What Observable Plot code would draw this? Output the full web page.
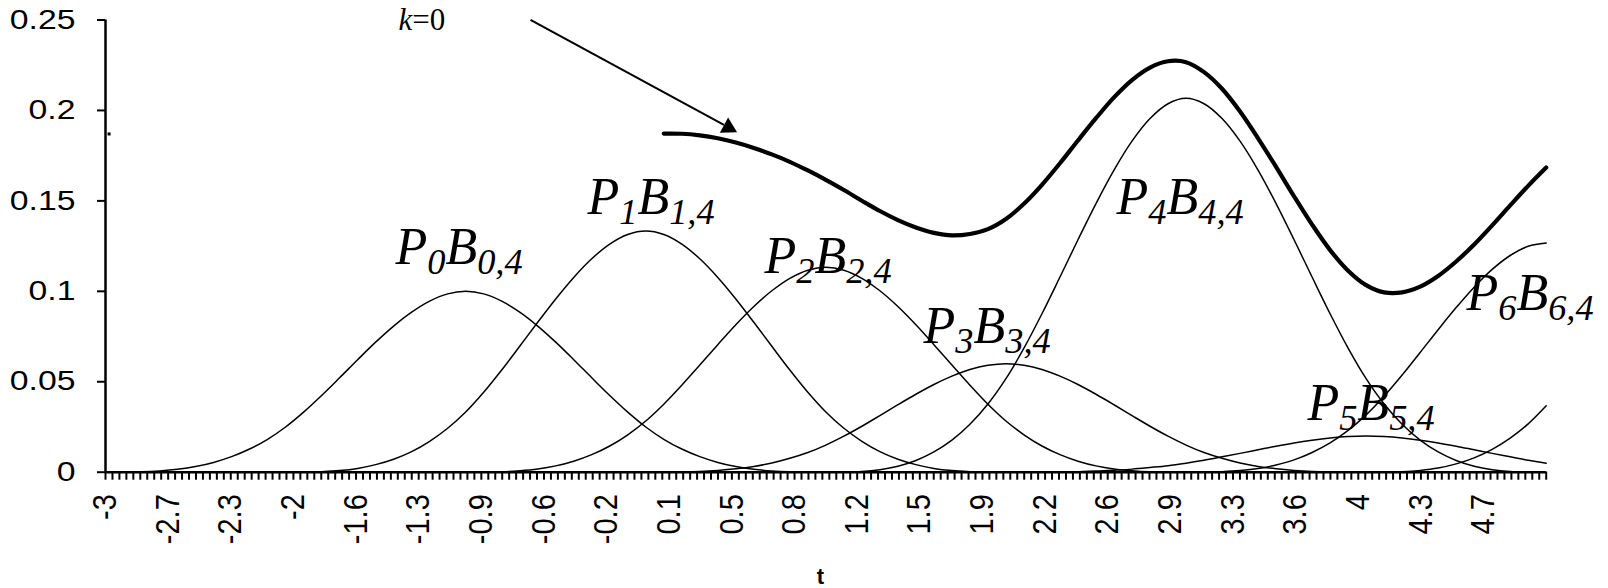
<!DOCTYPE html>
<html><head><meta charset="utf-8">
<script src="https://cdn.jsdelivr.net/npm/d3@7"></script>
<script src="https://cdn.jsdelivr.net/npm/@observablehq/plot@0.6"></script>
<style>body{margin:0;background:#fff}svg{display:block}</style>
</head><body><div id="chart"></div>
<script>
// ---- data ----
const tStep = 0.1;
const p0Start = -3;
const p0 = [0,0,.0002,.0007,.0016,.0031,.0054,.0086,.0128,.0182,.025,.0332,.0424,.0522,.0622,.0719,.0808,.0885,.0946,.0986,.1,.0986,.0946,.0885,.0808,.0719,.0622,.0522,.0424,.0332,.025,.0182,.0128,.0086,.0054,.0031,.0016,.0007,.0002,0,0];
const p1Start = -2;
const p1 = [0,0,.0003,.0009,.0021,.0042,.0072,.0114,.0171,.0243,.0333,.0442,.0565,.0696,.0829,.0958,.1077,.118,.1261,.1314,.1333,.1314,.1261,.118,.1077,.0958,.0829,.0696,.0565,.0442,.0333,.0243,.0171,.0114,.0072,.0042,.0021,.0009,.0003,0,0];
const p2Start = -1;
const p2 = [0,0,.0002,.0008,.0018,.0035,.0061,.0097,.0145,.0207,.0283,.0376,.0481,.0592,.0705,.0815,.0916,.1003,.1072,.1117,.1133,.1117,.1072,.1003,.0916,.0815,.0705,.0592,.0481,.0376,.0283,.0207,.0145,.0097,.0061,.0035,.0018,.0008,.0002,0,0];
const p3Start = 0;
const p3 = [0,0,.0001,.0004,.001,.0019,.0032,.0051,.0077,.0109,.015,.0199,.0254,.0313,.0373,.0431,.0485,.0531,.0568,.0591,.06,.0591,.0568,.0531,.0485,.0431,.0373,.0313,.0254,.0199,.015,.0109,.0077,.0051,.0032,.0019,.001,.0004,.0001,0,0];
const p4Start = 1;
const p4 = [0,.0001,.0004,.0014,.0033,.0065,.0112,.0177,.0265,.0377,.0517,.0686,.0876,.1079,.1285,.1485,.167,.183,.1955,.2037,.2067,.2037,.1955,.183,.167,.1485,.1285,.1079,.0876,.0686,.0517,.0377,.0265,.0177,.0112,.0065,.0033,.0014,.0004,.0001,0];
const p5Start = 2;
const p5 = [0,0,0,.0001,.0003,.0006,.0011,.0017,.0026,.0036,.005,.0066,.0085,.0104,.0124,.0144,.0162,.0177,.0189,.0197,.02,.0197,.0189,.0177,.0162,.0144,.0124,.0104,.0085,.0066,.005];
const p6Start = 3;
const p6 = [0,0,.0003,.0009,.002,.004,.0068,.0109,.0162,.0231,.0317,.042,.0537,.0662,.0788,.091,.1023,.1121,.1198,.1249,.1267];
const p7Start = 4;
const p7 = [0,0,.0003,.001,.0023,.0046,.0079,.0126,.0188,.0267,.0367];
const sumStart = 0.1;
const sumValues = [.1872,.1871,.1862,.1846,.1823,.1793,.1757,.1716,.1668,.1616,.156,.1501,.1444,.1394,.1353,.1323,.1309,.1317,.1344,.14,.1484,.1589,.1708,.1834,.1957,.2072,.2168,.2237,.2272,.2267,.2212,.212,.1994,.1846,.1688,.1525,.1369,.1228,.1114,.1034,.0994,.0994,.1026,.1085,.1165,.1259,.1365,.1475,.1583,.1684];
const strayPoint = [{t: -2.98, v: 0.187}];

// axes
const tMin = -3, tMax = 5;
const yTicks = [0, 0.05, 0.1, 0.15, 0.2, 0.25];
const yTickLabels = ["0", "0.05", "0.1", "0.15", "0.2", "0.25"];
const xTickLabels = ["-3","-2.7","-2.3","-2","-1.6","-1.3","-0.9","-0.6","-0.2","0.1","0.5","0.8","1.2","1.5","1.9","2.2","2.6","2.9","3.3","3.6","4","4.3","4.7"];
const categoriesPerLabel = 9;
const categoryCount = 208;
const xTitle = "t";

// annotations: "i" italic, "s" italic subscript, "n" normal
const labels = [
  {t: -1.39, v: 0.1151, text: "iP|s0|iB|s0,4"},
  {t: -0.324, v: 0.1430, text: "iP|s1|iB|s1,4"},
  {t: 0.659, v: 0.1100, text: "iP|s2|iB|s2,4"},
  {t: 1.542, v: 0.0714, text: "iP|s3|iB|s3,4"},
  {t: 2.614, v: 0.1430, text: "iP|s4|iB|s4,4"},
  {t: 3.674, v: 0.0286, text: "iP|s5|iB|s5,4"},
  {t: 4.557, v: 0.0899, text: "iP|s6|iB|s6,4"}
];
const kLabel = [{t: -1.373, v: 0.2447, text: "ik|n=0"}];
const arrow = [{t1: -0.640, v1: 0.2501, t2: 0.434, v2: 0.1920, th: 0.4587, vh: 0.1906}];

// ---- build ----
const seriesList = [
  [p0Start, p0], [p1Start, p1], [p2Start, p2], [p3Start, p3],
  [p4Start, p4], [p5Start, p5], [p6Start, p6], [p7Start, p7]
];
const thin = seriesList.flatMap(([s, vals], k) => vals.map((v, i) => ({k, t: +(s + i * tStep).toFixed(3), v})));
const sumRows = sumValues.map((v, i) => ({t: +(sumStart + i * tStep).toFixed(3), v}));
const catStep = (tMax - tMin) / (categoryCount - 1);
const cats = d3.range(categoryCount).map(i => tMin + i * catStep);
const labelPos = xTickLabels.map((d, i) => ({t: tMin + i * categoriesPerLabel * catStep, label: d}));

const W = 1608, H = 588;
const mL = 105, mR = 62.3, mT = 19.5, mB = 116.3;
const pxPerT = (W - mL - mR) / (tMax - tMin);
const pxPerV = (H - mT - mB) / 0.25;
const sans = "'Liberation Sans', Arial, sans-serif";
const serif = "'Liberation Serif', 'Times New Roman', serif";

const chart = Plot.plot({
  width: W, height: H,
  marginLeft: mL, marginRight: mR, marginTop: mT, marginBottom: mB,
  x: {domain: [tMin, tMax], axis: null},
  y: {domain: [0, 0.25], axis: null},
  style: {background: "#fff", fontFamily: sans},
  marks: [
    Plot.line(thin, {x: "t", y: "v", z: "k", stroke: "#000", strokeWidth: 1.5, curve: "catmull-rom"}),
    Plot.line(sumRows, {x: "t", y: "v", stroke: "#000", strokeWidth: 4.2, curve: "catmull-rom"}),
    Plot.dot(strayPoint, {x: "t", y: "v", symbol: "square", r: 1.7, fill: "#000"}),
    // axes
    Plot.ruleX([tMin], {stroke: "#000", strokeWidth: 2.5}),
    Plot.ruleY([0], {stroke: "#000", strokeWidth: 2.5}),
    Plot.ruleY(yTicks, {y: d => d, x1: tMin - 8 / pxPerT, x2: tMin, stroke: "#000", strokeWidth: 2}),
    Plot.text(yTicks, {x: tMin, y: d => d, text: (d, i) => yTickLabels[i], textAnchor: "end", dx: -30, fontSize: 27, fill: "#000", className: "ylab"}),
    Plot.ruleX(cats, {x: d => d, y1: 0, y2: -8 / pxPerV, stroke: "#000", strokeWidth: 2}),
    Plot.text(labelPos, {x: "t", y: () => 0, text: "label", rotate: -90, textAnchor: "end", dy: 22, fontSize: 29, fill: "#000", className: "xlab"}),
    Plot.text([xTitle], {x: (tMin + tMax) / 2 - 0.03, y: () => 0, text: d => d, dy: 105, fontSize: 22, fontWeight: "bold", fill: "#000"}),
    // annotations
    Plot.text(labels, {x: "t", y: "v", text: "text", textAnchor: "start", lineAnchor: "bottom", fontSize: 52, fontFamily: serif, fill: "#000"}),
    Plot.text(kLabel, {x: "t", y: "v", text: "text", textAnchor: "start", lineAnchor: "bottom", fontSize: 31, fontFamily: serif, fill: "#000"}),
    Plot.link(arrow, {x1: "t1", y1: "v1", x2: "t2", y2: "v2", stroke: "#000", strokeWidth: 2}),
    Plot.dot(arrow, {x: "th", y: "vh", symbol: "triangle", r: 6.4, rotate: 118.5, fill: "#000", stroke: "none"})
  ]
});

// rich-text labels (italic / subscript runs)
const NS = "http://www.w3.org/2000/svg";
d3.select(chart).selectAll("text").each(function () {
  const s = this.textContent;
  if (!s.includes("|")) return;
  this.textContent = "";
  let sub = false;
  for (const part of s.split("|")) {
    const code = part[0], str = part.slice(1);
    const ts = document.createElementNS(NS, "tspan");
    ts.textContent = str;
    if (code === "s") {
      ts.setAttribute("font-size", "0.7em");
      ts.setAttribute("font-style", "italic");
      if (!sub) ts.setAttribute("dy", "10");
      sub = true;
    } else {
      ts.setAttribute("font-style", code === "i" ? "italic" : "normal");
      if (sub) ts.setAttribute("dy", "-10");
      sub = false;
    }
    this.appendChild(ts);
  }
});
// the source chart's tick labels are drawn horizontally stretched
d3.select(chart).selectAll("g.ylab text").each(function () {
  this.setAttribute("transform", (this.getAttribute("transform") || "") + " scale(1.25,1)");
});
d3.select(chart).selectAll("g.xlab text").each(function () {
  this.setAttribute("transform", (this.getAttribute("transform") || "") + " scale(1,1.15)");
});
document.getElementById("chart").appendChild(chart);
</script>
</body></html>
